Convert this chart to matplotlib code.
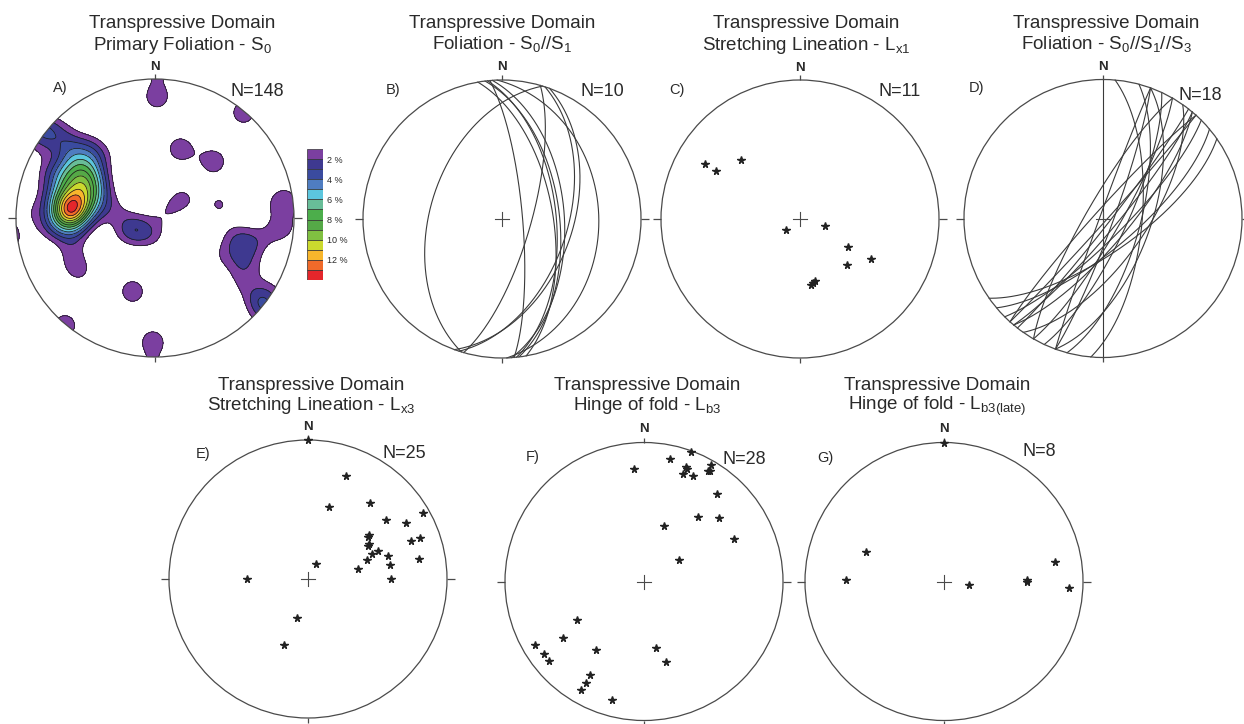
import numpy as np
import matplotlib
matplotlib.use('Agg')
import matplotlib.pyplot as plt
from matplotlib.patches import Circle

plt.rcParams['font.family'] = ['Liberation Sans', 'DejaVu Sans']
plt.rcParams['mathtext.fontset'] = 'custom'
plt.rcParams['mathtext.rm'] = 'Liberation Sans'
plt.rcParams['mathtext.it'] = 'Liberation Sans:italic'
plt.rcParams['mathtext.bf'] = 'Liberation Sans:bold'

# ---------------- DATA ----------------
# A) poles to primary foliation S0 : trend, plunge, number of measurements
A_trend = [265, 275, 285, 295, 305, 315,
           265, 275, 285, 295, 305,
           265, 275, 285, 295, 305,
           280, 295,
           265, 280, 295, 310, 270, 290, 310, 255, 275, 300, 315,
           250, 245, 318, 325,
           236, 180, 282, 63, 55, 246,
           104, 104, 117, 128, 78, 96, 117, 120,
           1, 20, 46, 197, 181, 40, 83, 128, 235]
A_plunge = [38, 38, 38, 38, 38, 38,
            30, 30, 30, 30, 30,
            46, 46, 46, 46, 46,
            54, 54,
            22, 22, 22, 22, 14, 14, 14, 6, 6, 6, 6,
            38, 28, 30, 42,
            78, 79, 67, 83, 70, 70,
            40, 28, 29, 23, 51, 12, 12, 44,
            14, 46, 41, 44, 12, 1, 9, 3, 34]
A_count = [3, 11, 3, 3, 3, 2,
           2, 2, 3, 3, 3,
           1, 3, 4, 4, 3,
           2, 2,
           1, 1, 2, 2, 1, 1, 2, 1, 1, 1, 1,
           2, 1, 2, 1,
           4, 2, 2, 2, 3, 2,
           3, 3, 3, 2, 3, 3, 1, 2,
           4, 4, 4, 4, 4, 4, 4, 5, 3]
A_levels = [2, 3, 4, 5, 6, 7, 8, 9, 10, 11, 12, 13, 14]
A_legend_labels = ['2 %', '4 %', '6 %', '8 %', '10 %', '12 %']

# B) foliation S0//S1 planes : dip direction, dip
B_dipdir = [287, 85, 106, 110, 108, 80, 83, 86, 88, 84]
B_dip = [47, 78, 73, 48, 51, 60, 56, 53, 31, 58]

# C) stretching lineation Lx1 : trend, plunge
C_trend = [300, 300, 315, 232, 105, 120, 119, 134, 166, 171, 169]
C_plunge = [22, 31, 40, 80, 75, 57, 41, 51, 52, 50, 51]

# D) foliation S0//S1//S3 planes : dip direction, dip
D_dipdir = [90, 95, 105, 110, 110, 120, 300, 130, 130, 132, 312, 140, 145, 125, 115, 128, 135, 290]
D_dip = [90, 67, 68, 62, 84, 80, 80, 82, 75, 88, 85, 72, 70, 65, 76, 86, 78, 88]

# E) stretching lineation Lx3 : trend, plunge
E_trend = [0, 20, 16, 39, 60, 53, 60, 54, 70, 60, 70, 68, 69, 72, 74, 80, 80, 29, 79, 90, 270, 195, 200, 55, 61]
E_plunge = [0, 22, 45, 30, 5, 30, 20, 45, 15, 48, 22, 45, 49, 53, 40, 40, 20, 80, 60, 40, 54, 66, 48, 46, 49]

# F) hinge of fold Lb3 : trend, plunge
F_trend = [20, 12, 355, 20, 20, 25, 30, 30, 40, 40, 50, 20, 65, 59, 240, 235, 240, 234, 230, 215,
           170, 165, 210, 210, 210, 195, 21, 31]
F_plunge = [1, 11, 20, 13, 19, 17, 4, 9, 19, 39, 30, 55, 29, 66, 44, 30, 10, 12, 12, 40,
            50, 40, 23, 17, 11, 13, 14, 8]

# G) hinge of fold Lb3(late) : trend, plunge
G_trend = [0, 291, 271, 98, 89, 80, 93, 90]
G_plunge = [0, 40, 30, 75, 40, 20, 11, 40]

titles = [
    ('A)', 'Transpressive Domain', r'Primary Foliation - $\mathregular{S_0}$'),
    ('B)', 'Transpressive Domain', r'Foliation - $\mathregular{S_0//S_1}$'),
    ('C)', 'Transpressive Domain', r'Stretching Lineation - $\mathregular{L_{x1}}$'),
    ('D)', 'Transpressive Domain', r'Foliation - $\mathregular{S_0//S_1//S_3}$'),
    ('E)', 'Transpressive Domain', r'Stretching Lineation - $\mathregular{L_{x3}}$'),
    ('F)', 'Transpressive Domain', r'Hinge of fold - $\mathregular{L_{b3}}$'),
    ('G)', 'Transpressive Domain', r'Hinge of fold - $\mathregular{L_{b3(late)}}$'),
]

legend_colors = ['#7b3fa0', '#3e3990', '#3a4b9f', '#4f7dc1', '#5cc6de', '#68bd98', '#4cae4b',
                 '#55a947', '#80c041', '#cbd92e', '#f8b62c', '#f06a2a', '#e4262b']

# ---------------- LAYOUT ----------------
W, H = 1244, 724
DPI = 100
fig = plt.figure(figsize=(W / DPI, H / DPI), dpi=DPI)
fig.patch.set_facecolor('white')

R = 139.0
centers = {'A': (155, 218), 'B': (502, 219), 'C': (800, 219), 'D': (1103, 218.5),
           'E': (308, 579), 'F': (644, 581.5), 'G': (944, 581.5)}
title_x = {'A': 182, 'B': 502, 'C': 806, 'D': 1106, 'E': 311, 'F': 647, 'G': 937}
label_pos = {'A': (60, 88), 'B': (393, 90), 'C': (677, 90), 'D': (977, 88),
             'E': (203, 454), 'F': (533, 457), 'G': (825, 458)}
npos = {'A': (230, 92), 'B': (580, 92), 'C': (878, 92), 'D': (1178, 96),
        'E': (383, 454), 'F': (723, 459), 'G': (1022, 451)}
nlabel_y = {'A': 67, 'B': 67, 'C': 68, 'D': 67, 'E': 427, 'F': 429, 'G': 429}

TXT = '#2a2a2a'
LINE = '#4a4a4a'


def fx(px):
    return px / W


def fy(py):
    return 1 - py / H


def proj_vec(E, N, U):
    f = 1.0 / np.sqrt(1.0 - U)
    return E * f, N * f


def proj_line(trend, plunge):
    t = np.radians(np.asarray(trend, float))
    p = np.radians(np.asarray(plunge, float))
    E = np.cos(p) * np.sin(t)
    N = np.cos(p) * np.cos(t)
    U = -np.sin(p)
    return proj_vec(E, N, U)


def great_circle(dipdir, dip, n=300):
    dd = np.radians(dipdir)
    st = dd - np.pi / 2
    dp = np.radians(dip)
    s = np.array([np.sin(st), np.cos(st), 0.0])
    d = np.array([np.sin(dd) * np.cos(dp), np.cos(dd) * np.cos(dp), -np.sin(dp)])
    t = np.linspace(0, np.pi, n)
    v = np.outer(np.cos(t), s) + np.outer(np.sin(t), d)
    U = np.minimum(v[:, 2], 0.0)
    return proj_vec(v[:, 0], v[:, 1], U)


def make_net(key, cross=True):
    cx, cy = centers[key]
    s = 1.4 * R
    ax = fig.add_axes([fx(cx - s), fy(cy + s), 2 * s / W, 2 * s / H])
    ax.set_xlim(-1.4, 1.4)
    ax.set_ylim(-1.4, 1.4)
    ax.axis('off')
    ax.patch.set_visible(False)
    ax.add_patch(Circle((0, 0), 1, fill=False, ec=LINE, lw=0.9, zorder=5))
    tk = 8 / R
    for (x0, y0, x1, y1) in [(-1 - tk, 0, -1, 0), (1, 0, 1 + tk, 0), (0, 1, 0, 1 + 0.6 * tk), (0, -1, 0, -1 - 0.6 * tk)]:
        ax.plot([x0, x1], [y0, y1], color=LINE, lw=0.9, zorder=5, solid_capstyle='butt')
    if cross:
        c = 7 / R
        ax.plot([-c, c], [0, 0], color=LINE, lw=0.8, zorder=5)
        ax.plot([0, 0], [-c, c], color=LINE, lw=0.8, zorder=5)
    i = 'ABCDEFG'.index(key)
    lab, t1, t2 = titles[i]
    base = 28.5 if cy < 362 else 389.5
    fig.text(fx(title_x[key]), fy(base), t1, ha='center', va='baseline', fontsize=13.5, color=TXT)
    fig.text(fx(title_x[key]), fy(base + 21), t2, ha='center', va='baseline', fontsize=13.5, color=TXT)
    fig.text(fx(cx), fy(nlabel_y[key]), 'N', ha='center', va='center', fontsize=9.5,
             fontweight='bold', color=TXT)
    lx, ly = label_pos[key]
    fig.text(fx(lx), fy(ly), lab, ha='center', va='center', fontsize=10.5, color=TXT)
    return ax


def n_text(key, n):
    x, y = npos[key]
    fig.text(fx(x), fy(y), f'N={n}', ha='left', va='center', fontsize=13, color=TXT)


# ---------------- A: contoured poles (smoothed counting, % per 1% area) ----------------
axA = make_net('A', cross=False)
g = np.linspace(-1.0, 1.0, 501)
X, Y = np.meshgrid(g, g)
px, py = proj_line(A_trend, A_plunge)
cnt = np.asarray(A_count, float)
NA = int(cnt.sum())
sig = 0.09
rr = np.hypot(px, py)
mx = -px * (2 - rr) / np.maximum(rr, 1e-9)
my = -py * (2 - rr) / np.maximum(rr, 1e-9)
count = np.zeros_like(X)
for xi, yi, mxi, myi, c in zip(px, py, mx, my, cnt):
    for ux, uy in ((xi, yi), (mxi, myi)):
        count += c * np.exp(-((X - ux) ** 2 + (Y - uy) ** 2) / (2 * sig ** 2))
pct = count / NA * 100.0
clip = Circle((0, 0), 1, transform=axA.transData)
cf = axA.contourf(X, Y, pct, levels=A_levels + [1000], colors=legend_colors, zorder=1)
cf.set_clip_path(clip)
cl = axA.contour(X, Y, pct, levels=A_levels, colors='#1a1a1a', linewidths=0.55, zorder=2)
cl.set_clip_path(clip)
n_text('A', NA)

# legend boxes
lx0, lx1, ly0, ly1 = 307, 323, 149, 280
axL = fig.add_axes([fx(lx0), fy(ly1), (lx1 - lx0) / W, (ly1 - ly0) / H])
nb = len(legend_colors)
axL.barh(np.arange(nb) + 0.5, [1] * nb, height=1.0, color=legend_colors, edgecolor='#333333', linewidth=0.5)
axL.set_xlim(0, 1)
axL.set_ylim(nb, 0)
axL.axis('off')
bh = (ly1 - ly0) / nb
for k, t in enumerate(A_legend_labels):
    yv = ly0 + (2 * k + 1) * bh + 1
    fig.text(fx(327), fy(yv), t, ha='left', va='center', fontsize=6.5, color=TXT)

# ---------------- B ----------------
axB = make_net('B')
for dd, dp in zip(B_dipdir, B_dip):
    x, y = great_circle(dd, dp)
    axB.plot(x, y, color='#3a3a3a', lw=0.8, zorder=3)
n_text('B', len(B_dip))

# ---------------- C ----------------
axC = make_net('C')
x, y = proj_line(C_trend, C_plunge)
axC.plot(x, y, ls='none', marker='*', ms=5.5, color='#222222', mec='#222222', zorder=4)
n_text('C', len(C_trend))

# ---------------- D ----------------
axD = make_net('D')
for dd, dp in zip(D_dipdir, D_dip):
    x, y = great_circle(dd, dp)
    axD.plot(x, y, color='#3a3a3a', lw=0.8, zorder=3)
n_text('D', len(D_dip))

# ---------------- E, F, G ----------------
for key, tr, pl in [('E', E_trend, E_plunge), ('F', F_trend, F_plunge), ('G', G_trend, G_plunge)]:
    ax = make_net(key)
    x, y = proj_line(tr, pl)
    ax.plot(x, y, ls='none', marker='*', ms=5.5, color='#222222', mec='#222222', zorder=6)
    n_text(key, len(tr))

fig.savefig('out.png', dpi=DPI, facecolor='white')
